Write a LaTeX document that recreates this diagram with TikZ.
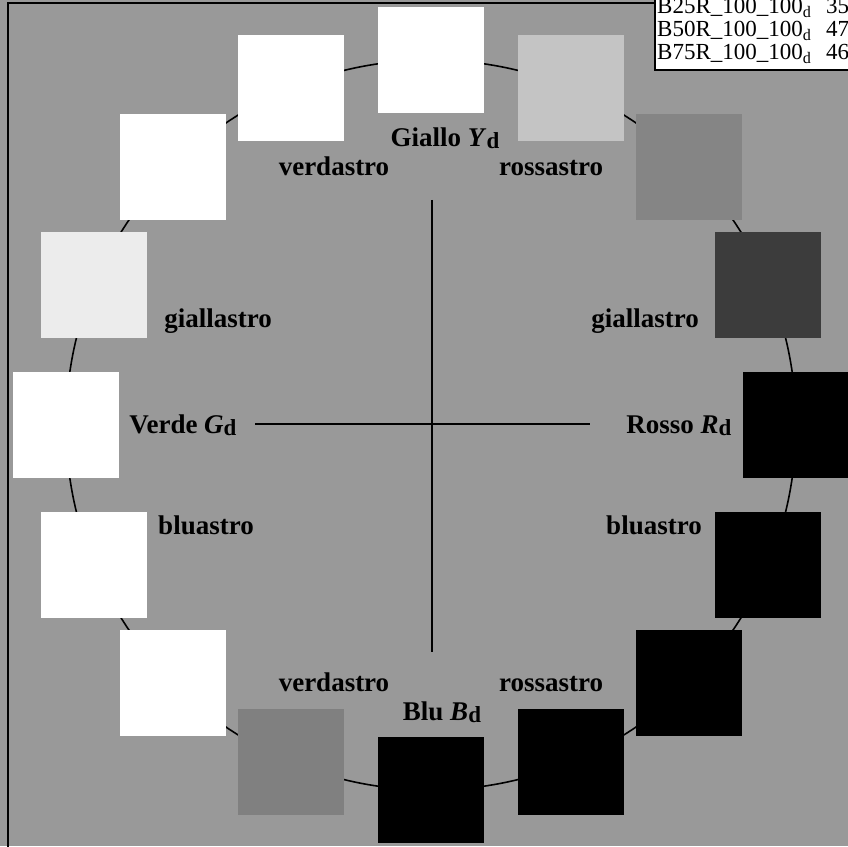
\documentclass[tikz,border=0pt]{standalone}
\usepackage{fontspec}
\setmainfont{Liberation Serif}
\usetikzlibrary{calc}

\definecolor{bggray}{HTML}{999999}
\definecolor{tintA}{HTML}{C4C4C4}
\definecolor{tintB}{HTML}{858585}
\definecolor{tintC}{HTML}{3C3C3C}
\definecolor{tintD}{HTML}{808080}
\definecolor{tintE}{HTML}{ECECEC}
\newcommand{\lowd}{\raisebox{-2pt}{\fontsize{23}{23}\selectfont d}}

\begin{document}
\begin{tikzpicture}[x=1pt, y=1pt,
    swatch/.style={rectangle, minimum width=106pt, minimum height=106pt, inner sep=0pt},
    hue/.style={font=\fontsize{27}{29}\selectfont\bfseries, inner sep=0pt, anchor=base},
    tabrow/.style={font=\fontsize{23}{24}\selectfont, inner sep=0pt, anchor=base west},
    axis/.style={line width=1.4pt}]

    \useasboundingbox (0,0) rectangle (848,846);
    \clip (0,0) rectangle (848,846);
    \fill[bggray] (0,0) rectangle (848,846);

    % frame
    \draw[line width=2pt] (8,-5) -- (8,843) -- (656,843);

    % table in the corner
    \fill[white] (655,776) rectangle (850,850);
    \draw[line width=1.5pt] (655,850) -- (655,776) -- (850,776);
    \node[tabrow] (r1) at (657,832) {B25R\_100\_100\textsubscript{d}};
    \node[tabrow] (r2) at (657,809) {B50R\_100\_100\textsubscript{d}};
    \node[tabrow] (r3) at (657,786) {B75R\_100\_100\textsubscript{d}};
    \node[tabrow] (n1) at (826,832) {35};
    \node[tabrow] (n2) at (826,809) {47};
    \node[tabrow] (n3) at (826,786) {46};

    % hue circle
    \coordinate (c) at (431,421);
    \draw[line width=1.6pt] (c) circle (365);

    \foreach \ang/\col [count=\i] in {90/white, 67.5/tintA, 45/tintB, 22.5/tintC,
        0/black, -22.5/black, -45/black, -67.5/black, -90/black, -112.5/tintD,
        -135/white, -157.5/white, 180/white, 157.5/tintE, 135/white, 112.5/white}
        \node[swatch, fill=\col] (s\i) at ($(c)+(\ang:365)$) {};

    % axes
    \coordinate (top) at (432,646);
    \coordinate (bot) at (432,194);
    \coordinate (lft) at (255,422);
    \coordinate (rgt) at (590,422);
    \draw[axis] (top) -- (bot);
    \draw[axis] (lft) -- (rgt);

    % labels
    \node[hue] (yel) at (445,699) {Giallo \textit{Y}\lowd};
    \node[hue] (yg) at (334,670) {verdastro};
    \node[hue] (yr) at (551,670) {rossastro};
    \node[hue] (gy) at (218,518) {giallastro};
    \node[hue] (ry) at (645,518) {giallastro};
    \node[hue] (grn) at (183,412) {Verde \textit{G}\lowd};
    \node[hue] (red) at (679,412) {Rosso \textit{R}\lowd};
    \node[hue] (gb) at (206,311) {bluastro};
    \node[hue] (rb) at (654,311) {bluastro};
    \node[hue] (bg) at (334,155) {verdastro};
    \node[hue] (br) at (551,155) {rossastro};
    \node[hue] (blu) at (442,126) {Blu \textit{B}\lowd};
\end{tikzpicture}
\end{document}
